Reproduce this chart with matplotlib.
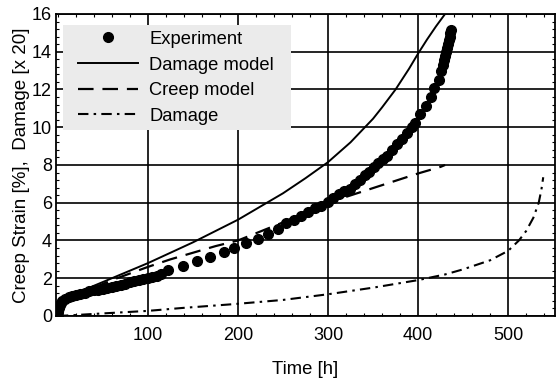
import matplotlib
matplotlib.use("Agg")
import matplotlib.pyplot as plt
from matplotlib.patches import Rectangle
from matplotlib.ticker import MultipleLocator

plt.rcParams['font.family'] = ['Liberation Sans', 'DejaVu Sans']

# Experiment (creep strain in %)
t_exp = [0, 0.5, 1, 2, 3, 5, 8, 12, 16, 20, 25, 30, 35, 40, 45, 50, 55, 60, 65, 70,
         75, 80, 85, 90, 95, 100, 105, 110, 115, 122, 139, 155, 169, 184, 196, 209,
         222, 233, 244, 253, 262, 270, 278, 285, 292, 300, 306, 312, 318, 324, 330,
         336, 341, 346, 351, 356, 361, 366, 371, 377, 382, 388, 393, 397, 402, 409,
         414, 418, 423, 426, 427.5, 429, 430, 431, 432, 433, 434, 435, 436, 437]
eps_exp = [0, 0.2, 0.4, 0.6, 0.7, 0.8, 0.9, 1.0, 1.05, 1.1, 1.17, 1.23, 1.3, 1.35,
           1.4, 1.45, 1.5, 1.55, 1.6, 1.66, 1.72, 1.78, 1.84, 1.9, 1.96, 2.02, 2.08,
           2.14, 2.22, 2.43, 2.65, 2.9, 3.1, 3.4, 3.6, 3.85, 4.1, 4.35, 4.6, 4.9,
           5.1, 5.3, 5.5, 5.7, 5.85, 6.05, 6.25, 6.45, 6.6, 6.75, 7.0, 7.2, 7.45,
           7.65, 7.9, 8.1, 8.3, 8.5, 8.8, 9.1, 9.4, 9.7, 10.0, 10.25, 10.7, 11.1,
           11.6, 12.1, 12.5, 13.0, 13.3, 13.55, 13.8, 14.0, 14.2, 14.4, 14.6, 14.8,
           15.0, 15.15]

# Damage model
t_dm = [0, 2, 5, 10, 20, 40, 60, 80, 100, 125, 150, 175, 200, 225, 250, 275, 300,
        325, 350, 360, 375, 390, 400, 410, 420, 430]
eps_dm = [0, 0.45, 0.7, 0.9, 1.15, 1.6, 2.0, 2.4, 2.8, 3.35, 3.9, 4.5, 5.1, 5.8,
          6.5, 7.3, 8.15, 9.2, 10.45, 11.05, 12.0, 13.1, 13.9, 14.65, 15.35, 16.0]

# Creep model
t_cm = [0, 2, 5, 10, 20, 40, 60, 80, 100, 125, 150, 175, 200, 247, 300, 358, 400, 425, 430]
eps_cm = [0, 0.45, 0.7, 0.9, 1.1, 1.5, 1.9, 2.25, 2.6, 3.0, 3.35, 3.7, 4.0, 4.9,
          6.0, 6.9, 7.55, 7.9, 8.0]

# Damage (x 20)
t_d = [0, 20, 37, 100, 137, 196, 250, 300, 350, 400, 430, 450, 480, 500, 512, 520,
       528, 534, 537, 539]
dmg = [0, 0.05, 0.1, 0.27, 0.42, 0.63, 0.85, 1.15, 1.5, 1.9, 2.2, 2.47, 2.95, 3.45,
       4.0, 4.5, 5.2, 6.0, 6.7, 7.35]

dpi = 100
fig = plt.figure(dpi=dpi, figsize=(558 / dpi, 383 / dpi))
ax = fig.add_axes([0.1005, 0.175, 0.894, 0.7885])

ax.plot(t_exp, eps_exp, 'o', color='black', markersize=7, label='Experiment')
ax.plot(t_dm, eps_dm, '-', color='black', lw=1.4, label='Damage model')
ax.plot(t_cm, eps_cm, color='black', lw=1.6, linestyle=(0, (7, 4)), label='Creep model')
ax.plot(t_d, dmg, color='black', lw=1.5, linestyle=(0, (5, 2.5, 1.2, 2.5)), label='Damage')

ax.set_xlim(-2, 552)
ax.set_ylim(0, 16)
ax.set_xticks([100, 200, 300, 400, 500])
ax.set_yticks(range(0, 17, 2))
ax.xaxis.set_minor_locator(MultipleLocator(20))
ax.yaxis.set_minor_locator(MultipleLocator(0.4))
ax.tick_params(which='both', direction='in', top=True, right=True, labelsize=13)
ax.tick_params(axis='x', which='major', length=0, pad=8)
ax.tick_params(axis='y', which='major', length=0, pad=3)
ax.tick_params(which='minor', length=2.5, width=0.8)
ax.grid(True, color='black', lw=1.2)
for s in ax.spines.values():
    s.set_linewidth(1.3)

ax.set_xlabel('Time [h]', fontsize=13.3, labelpad=12)
ax.set_ylabel('Creep Strain [%],  Damage [x 20]', fontsize=13.5, labelpad=1)

# stippled legend background of the scan
ax.add_patch(Rectangle((0.014, 0.616), 0.456, 0.348, transform=ax.transAxes,
                       facecolor='#ebebeb', edgecolor='none', zorder=4))

leg = ax.legend(loc='upper left', bbox_to_anchor=(0.044, 0.944), borderaxespad=0,
                borderpad=0, numpoints=1, fontsize=13.2, frameon=False,
                handlelength=3.28, handletextpad=0.6, labelspacing=0.47)
leg.set_zorder(5)

fig.savefig('out.png', dpi=dpi)
